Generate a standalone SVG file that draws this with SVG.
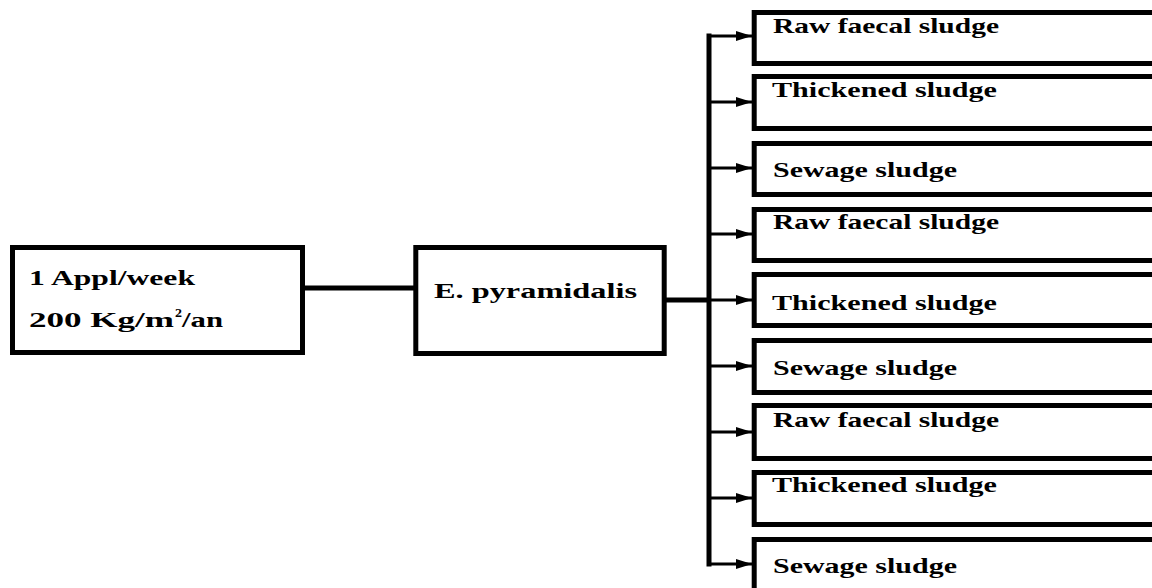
<svg xmlns="http://www.w3.org/2000/svg" width="1152" height="588" viewBox="0 0 1152 588">
<style>
.box{fill:#fff;stroke:#000;stroke-width:5}
.t{font-family:"Liberation Serif","Times New Roman",serif;font-weight:bold;font-size:21px;fill:#000}
.sup{font-family:"Liberation Serif","Times New Roman",serif;font-weight:bold;font-size:13px;fill:#000}
.thick{stroke:#000;stroke-width:5;fill:none}
.br{stroke:#000;stroke-width:3;fill:none}
</style>
<defs>
<marker id="ah" markerUnits="userSpaceOnUse" markerWidth="16" markerHeight="10" refX="16" refY="5" orient="auto">
<path d="M0,0 L16,5 L0,10 Z" fill="#000"/>
</marker>
</defs>
<rect width="1152" height="588" fill="#fff"/>
<g id="connectors">
<line class="thick" x1="305" y1="288" x2="415" y2="288"/>
<line class="thick" x1="666" y1="300" x2="711" y2="300"/>
<path class="thick" d="M709,36 L709,564" stroke-linecap="square"/>
<line class="br" x1="709" y1="36" x2="752" y2="36" marker-end="url(#ah)"/>
<line class="br" x1="709" y1="102" x2="752" y2="102" marker-end="url(#ah)"/>
<line class="br" x1="709" y1="168" x2="752" y2="168" marker-end="url(#ah)"/>
<line class="br" x1="709" y1="234" x2="752" y2="234" marker-end="url(#ah)"/>
<line class="br" x1="709" y1="300" x2="752" y2="300" marker-end="url(#ah)"/>
<line class="br" x1="709" y1="366" x2="752" y2="366" marker-end="url(#ah)"/>
<line class="br" x1="709" y1="432" x2="752" y2="432" marker-end="url(#ah)"/>
<line class="br" x1="709" y1="498" x2="752" y2="498" marker-end="url(#ah)"/>
<line class="br" x1="709" y1="564" x2="752" y2="564" marker-end="url(#ah)"/>
</g>
<g id="input">
<rect class="box" x="12.5" y="247.5" width="290" height="105"/>
<text class="t" x="29" y="285" textLength="166" lengthAdjust="spacingAndGlyphs">1 Appl/week</text>
<text class="t" x="29" y="327" textLength="145" lengthAdjust="spacingAndGlyphs">200 Kg/m</text>
<text class="sup" x="175" y="317" textLength="7" lengthAdjust="spacingAndGlyphs">2</text>
<text class="t" x="182" y="327" textLength="41" lengthAdjust="spacingAndGlyphs">/an</text>
</g>
<g id="species">
<rect class="box" x="415.8" y="247.5" width="248.4" height="106"/>
<text class="t" x="434" y="298" textLength="203" lengthAdjust="spacingAndGlyphs">E. pyramidalis</text>
</g>
<g id="n1"><rect class="box" x="754.2" y="12.5" width="460" height="51"/><text class="t" x="773" y="33" textLength="226" lengthAdjust="spacingAndGlyphs">Raw faecal sludge</text></g>
<g id="n2"><rect class="box" x="754.2" y="76.5" width="460" height="52"/><text class="t" x="772" y="97" textLength="225" lengthAdjust="spacingAndGlyphs">Thickened sludge</text></g>
<g id="n3"><rect class="box" x="754.2" y="143.5" width="460" height="51"/><text class="t" x="773" y="177" textLength="184" lengthAdjust="spacingAndGlyphs">Sewage sludge</text></g>
<g id="n4"><rect class="box" x="754.2" y="209.5" width="460" height="51"/><text class="t" x="773" y="229" textLength="226" lengthAdjust="spacingAndGlyphs">Raw faecal sludge</text></g>
<g id="n5"><rect class="box" x="754.2" y="274.5" width="460" height="51"/><text class="t" x="772" y="310" textLength="225" lengthAdjust="spacingAndGlyphs">Thickened sludge</text></g>
<g id="n6"><rect class="box" x="754.2" y="340.5" width="460" height="52"/><text class="t" x="773" y="375" textLength="184" lengthAdjust="spacingAndGlyphs">Sewage sludge</text></g>
<g id="n7"><rect class="box" x="754.2" y="405.5" width="460" height="53"/><text class="t" x="773" y="427" textLength="226" lengthAdjust="spacingAndGlyphs">Raw faecal sludge</text></g>
<g id="n8"><rect class="box" x="754.2" y="472.5" width="460" height="52"/><text class="t" x="772" y="492" textLength="225" lengthAdjust="spacingAndGlyphs">Thickened sludge</text></g>
<g id="n9"><rect class="box" x="754.2" y="539.5" width="460" height="60"/><text class="t" x="773" y="573" textLength="184" lengthAdjust="spacingAndGlyphs">Sewage sludge</text></g>
</svg>
